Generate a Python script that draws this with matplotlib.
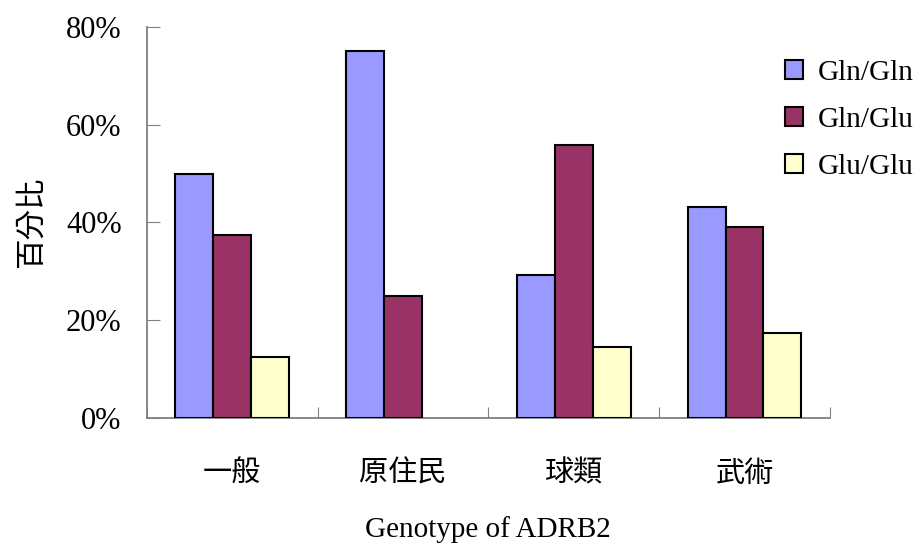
import matplotlib
matplotlib.use("Agg")
import matplotlib.pyplot as plt
import numpy as np
from matplotlib.ticker import FuncFormatter

categories = ["一般", "原住民", "球類", "武術"]
series_names = ["Gln/Gln", "Gln/Glu", "Glu/Glu"]
gln_gln = [50.0, 75.0, 29.3, 43.2]
gln_glu = [37.5, 25.0, 55.9, 39.1]
glu_glu = [12.5, 0.0, 14.6, 17.4]
yticks = [0, 20, 40, 60, 80]

colors = ["#9999FF", "#993366", "#FFFFCC"]
latin = ["Liberation Serif", "Noto Sans CJK TC"]
cjk = ["Noto Sans CJK TC", "Liberation Serif"]

fig = plt.figure(figsize=(9.17, 5.48), dpi=100)
ax = fig.add_axes([0.160, 0.237, 0.745, 0.714])

x = np.arange(len(categories))
w = 2.0 / 9.0
for i, (vals, name, c) in enumerate(zip([gln_gln, gln_glu, glu_glu], series_names, colors)):
    lws = [1.5 if v > 0 else 0 for v in vals]
    ax.bar(x + (i - 1) * w, vals, width=w, color=c, edgecolor="black", linewidth=lws, label=name, zorder=3)

ax.set_xlim(-0.5, len(categories) - 0.5)
ax.set_ylim(0, 80)
ax.set_yticks(yticks)
ax.yaxis.set_major_formatter(FuncFormatter(lambda v, p: f"{int(v)}%"))
ax.set_xticks(np.arange(-0.5, len(categories), 1.0))
ax.set_xticklabels([])
ax.set_xticks(x, minor=True)
ax.set_xticklabels(categories, minor=True, fontfamily=cjk, fontsize=21)
ax.tick_params(axis="x", which="major", direction="in", length=8, color="#808080")
ax.tick_params(axis="x", which="minor", length=0, pad=29)
ax.tick_params(axis="y", direction="in", length=9, color="#808080", pad=18)
for lab in ax.get_yticklabels():
    lab.set_fontfamily(latin)
    lab.set_fontsize(22)

for s in ["top", "right"]:
    ax.spines[s].set_visible(False)
for s in ["left", "bottom"]:
    ax.spines[s].set_color("#808080")
    ax.spines[s].set_linewidth(1.3)

ax.set_ylabel("百分比", fontfamily=cjk, fontsize=22, labelpad=14)
ax.set_xlabel("Genotype of ADRB2", fontfamily=latin, fontsize=21, labelpad=20)

leg = ax.legend(loc="upper left", bbox_to_anchor=(0.934, 0.915), frameon=False, borderpad=0,
                borderaxespad=0,
                prop={"family": latin, "size": 21}, handlelength=0.62, handleheight=0.62,
                handletextpad=0.5, labelspacing=0.72)

fig.savefig("out.png", dpi=100)
